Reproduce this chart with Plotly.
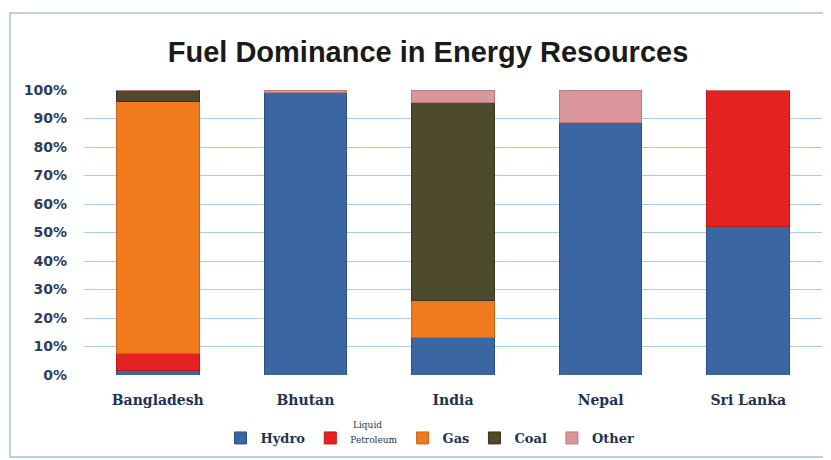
import plotly.graph_objects as go

countries = ["Bangladesh", "Bhutan", "India", "Nepal", "Sri Lanka"]
hydro = [1.5, 99, 13, 88.5, 52]
liquid_petroleum = [6, 0, 0, 0, 48]
gas = [88.5, 0, 13, 0, 0]
coal = [4, 0, 69.5, 0, 0]
other = [0, 1, 4.5, 11.5, 0]

series = [
    ("Hydro", hydro, "#3C66A1", "#2E5183"),
    ("<span style='font-size:9px;font-weight:normal'>Petroleum</span>", liquid_petroleum, "#E52222", "#B81A1A"),
    ("Gas", gas, "#F07B1F", "#C86418"),
    ("Coal", coal, "#4E4A2D", "#3A3720"),
    ("Other", other, "#D9979B", "#B87C80"),
]

fig = go.Figure()
for name, vals, col, lc in series:
    fig.add_trace(go.Bar(
        x=countries, y=vals, name=name,
        marker=dict(color=col, line=dict(color=lc, width=1)),
    ))

# page body has an 8px margin; work in page coordinates and shift
OFF = 8
W, H = 831 - OFF, 460 - OFF
L, R, T, B = 84 - OFF, 822 - OFF, 90 - OFF, 375 - OFF
pw, ph = R - L, B - T


def px(x):
    return (x - OFF - L) / pw


def py(y):
    return (B - (y - OFF)) / ph


fig.update_layout(
    barmode="stack",
    bargap=0.44,
    width=W, height=H,
    margin=dict(l=L, r=W - R, t=T, b=H - B, autoexpand=False),
    paper_bgcolor="white",
    plot_bgcolor="white",
    title=dict(
        text="<b>Fuel Dominance in Energy Resources</b>",
        x=(428 - OFF) / W, xanchor="center", y=1 - (52 - OFF) / H, yanchor="middle",
        font=dict(family="Liberation Sans, Arial", size=29, color="#1A1A1A"),
    ),
    showlegend=True,
    legend=dict(
        orientation="h", x=px(430), xanchor="center",
        y=py(438), yanchor="middle",
        font=dict(family="DejaVu Serif", size=13, color="#1F3350", weight="bold"),
        bgcolor="rgba(0,0,0,0)",
        itemwidth=30, tracegroupgap=0,
        traceorder="normal",
    ),
    yaxis=dict(
        range=[0, 100], dtick=10, ticksuffix="%",
        showgrid=True, gridcolor="#A8CCE6", gridwidth=1,
        zeroline=False, showline=False,
        tickfont=dict(family="DejaVu Sans", size=14, color="#2B3F5C", weight="bold"),
        ticklabelstandoff=16,
    ),
    xaxis=dict(
        showline=False,
        tickfont=dict(family="DejaVu Serif", size=14, color="#1F3350", weight="bold"),
        ticklabelstandoff=15,
    ),
    shapes=[dict(
        type="rect", xref="paper", yref="paper",
        x0=px(10), x1=px(829), y0=py(457), y1=py(13),
        line=dict(color="#A9BED0", width=1.5), fillcolor="rgba(0,0,0,0)", layer="below",
    )],
    annotations=[dict(
        text="Liquid", xref="paper", yref="paper", x=px(351), y=py(425),
        xanchor="left", yanchor="middle", showarrow=False,
        font=dict(family="DejaVu Serif", size=9, color="#1F3350"),
    )],
)

fig.write_html("out.html")
